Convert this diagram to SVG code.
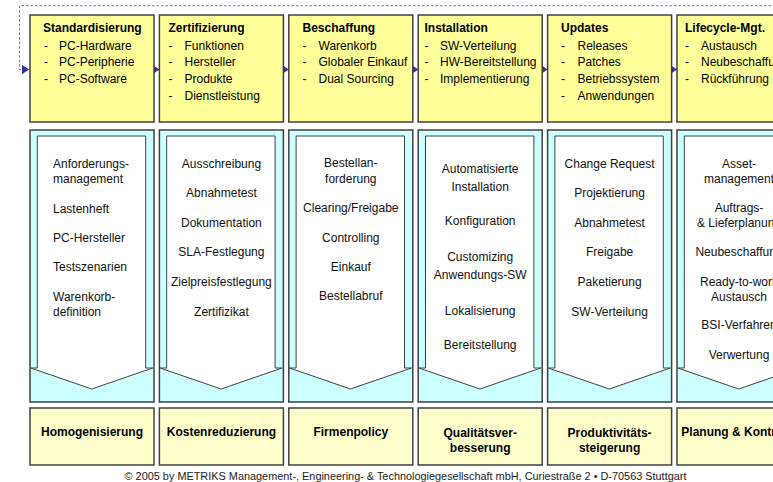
<svg xmlns="http://www.w3.org/2000/svg" width="773" height="482" viewBox="0 0 773 482">
<style>
text{font-family:"Liberation Sans",Arial,Helvetica,sans-serif;fill:#000}
.top{fill:#FFFF99;stroke:#404040;stroke-width:1.5}
.mid{fill:#CCFFFF;stroke:#404040;stroke-width:1.5}
.bot{fill:#FFFFCC;stroke:#404040;stroke-width:1.5}
.arr{fill:#FFFFFF;stroke:#404040;stroke-width:1}
.t{font-size:12px;font-weight:bold}
.i{font-size:12px}
.m{font-size:12px;text-anchor:middle;fill:#111}
.ml{font-size:12px;fill:#111}
.b{font-size:12px;font-weight:bold;text-anchor:middle}
.f{font-size:10.9px;text-anchor:middle;fill:#222}
.loop{fill:none;stroke:#6666CC;stroke-width:1;stroke-dasharray:2.5 2}
.step{fill:none;stroke:#333399;stroke-width:1}
</style>
<defs>
<marker id="ah" markerUnits="userSpaceOnUse" markerWidth="7" markerHeight="10" refX="7" refY="4.75" orient="auto">
<path d="M0,0 L7,4.75 L0,9.5 Z" fill="#333399"/>
</marker>
</defs>

<g id="connectors">
<path class="loop" d="M780,5.7 H19.5 V69.5 H29" marker-end="url(#ah)"/>
<path class="step" d="M154,69.5 H159.4" marker-end="url(#ah)"/>
<path class="step" d="M283.4,69.5 H288.8" marker-end="url(#ah)"/>
<path class="step" d="M412.8,69.5 H418.2" marker-end="url(#ah)"/>
<path class="step" d="M542.2,69.5 H547.6" marker-end="url(#ah)"/>
<path class="step" d="M671.6,69.5 H677" marker-end="url(#ah)"/>
</g>

<!-- Top row -->
<g id="top-standardisierung">
<rect class="top" x="30" y="15" width="124" height="107"/>
<text class="t" x="43" y="32">Standardisierung</text>
<text class="i"><tspan x="44" y="49.5">-</tspan><tspan x="59">PC-Hardware</tspan></text>
<text class="i"><tspan x="44" y="66.2">-</tspan><tspan x="59">PC-Peripherie</tspan></text>
<text class="i"><tspan x="44" y="83">-</tspan><tspan x="59">PC-Software</tspan></text>
</g>
<g id="top-zertifizierung">
<rect class="top" x="159.4" y="15" width="124" height="107"/>
<text class="t" x="168.5" y="32">Zertifizierung</text>
<text class="i"><tspan x="168.5" y="49.5">-</tspan><tspan x="184.5">Funktionen</tspan></text>
<text class="i"><tspan x="168.5" y="66.2">-</tspan><tspan x="184.5">Hersteller</tspan></text>
<text class="i"><tspan x="168.5" y="83">-</tspan><tspan x="184.5">Produkte</tspan></text>
<text class="i"><tspan x="168.5" y="99.7">-</tspan><tspan x="184.5">Dienstleistung</tspan></text>
</g>
<g id="top-beschaffung">
<rect class="top" x="288.8" y="15" width="124" height="107"/>
<text class="t" x="302.5" y="32">Beschaffung</text>
<text class="i"><tspan x="302.5" y="49.5">-</tspan><tspan x="318.5">Warenkorb</tspan></text>
<text class="i"><tspan x="302.5" y="66.2">-</tspan><tspan x="318.5">Globaler Einkauf</tspan></text>
<text class="i"><tspan x="302.5" y="83">-</tspan><tspan x="318.5">Dual Sourcing</tspan></text>
</g>
<g id="top-installation">
<rect class="top" x="418.2" y="15" width="124" height="107"/>
<text class="t" x="424.5" y="32">Installation</text>
<text class="i"><tspan x="424.5" y="49.5">-</tspan><tspan x="440">SW-Verteilung</tspan></text>
<text class="i"><tspan x="424.5" y="66.2">-</tspan><tspan x="440">HW-Bereitstellung</tspan></text>
<text class="i"><tspan x="424.5" y="83">-</tspan><tspan x="440">Implementierung</tspan></text>
</g>
<g id="top-updates">
<rect class="top" x="547.6" y="15" width="124" height="107"/>
<text class="t" x="561" y="32">Updates</text>
<text class="i"><tspan x="561" y="49.5">-</tspan><tspan x="577.5">Releases</tspan></text>
<text class="i"><tspan x="561" y="66.2">-</tspan><tspan x="577.5">Patches</tspan></text>
<text class="i"><tspan x="561" y="83">-</tspan><tspan x="577.5">Betriebssystem</tspan></text>
<text class="i"><tspan x="561" y="99.7">-</tspan><tspan x="577.5">Anwendungen</tspan></text>
</g>
<g id="top-lifecycle">
<rect class="top" x="677" y="15" width="124" height="107"/>
<text class="t" x="685" y="32">Lifecycle-Mgt.</text>
<text class="i"><tspan x="685" y="49.5">-</tspan><tspan x="701">Austausch</tspan></text>
<text class="i"><tspan x="685" y="66.2">-</tspan><tspan x="701">Neubeschaffung</tspan></text>
<text class="i"><tspan x="685" y="83">-</tspan><tspan x="701">Rückführung</tspan></text>
</g>

<!-- Middle row -->
<g id="mid-standardisierung">
<rect class="mid" x="30" y="130" width="124" height="272"/>
<path class="arr" d="M37.3,136 H145.7 V368 H152.7 L91.7,389 L30.7,368 H37.3 Z"/>
<text class="ml" x="53" y="168">Anforderungs-</text>
<text class="ml" x="53" y="183">management</text>
<text class="ml" x="53" y="212.5">Lastenheft</text>
<text class="ml" x="53" y="241.5">PC-Hersteller</text>
<text class="ml" x="53" y="270.5">Testszenarien</text>
<text class="ml" x="53" y="300.5">Warenkorb-</text>
<text class="ml" x="53" y="315.5">definition</text>
</g>
<g id="mid-zertifizierung">
<rect class="mid" x="159.4" y="130" width="124" height="272"/>
<path class="arr" d="M166.7,136 H275.1 V368 H282.1 L221.1,389 L160.1,368 H166.7 Z"/>
<text class="m" x="221.4" y="167.7">Ausschreibung</text>
<text class="m" x="221.4" y="197.3">Abnahmetest</text>
<text class="m" x="221.4" y="226.7">Dokumentation</text>
<text class="m" x="221.4" y="256">SLA-Festlegung</text>
<text class="m" x="221.4" y="285.7">Zielpreisfestlegung</text>
<text class="m" x="221.4" y="315.7">Zertifizikat</text>
</g>
<g id="mid-beschaffung">
<rect class="mid" x="288.8" y="130" width="124" height="272"/>
<path class="arr" d="M296.1,136 H404.5 V368 H411.5 L350.5,389 L289.5,368 H296.1 Z"/>
<text class="m" x="350.8" y="167.3">Bestellan-</text>
<text class="m" x="350.8" y="183">forderung</text>
<text class="m" x="350.8" y="212.3">Clearing/Freigabe</text>
<text class="m" x="350.8" y="241.7">Controlling</text>
<text class="m" x="350.8" y="271">Einkauf</text>
<text class="m" x="350.8" y="300.3">Bestellabruf</text>
</g>
<g id="mid-installation">
<rect class="mid" x="418.2" y="130" width="124" height="272"/>
<path class="arr" d="M425.5,136 H533.9 V368 H540.9 L479.9,389 L418.9,368 H425.5 Z"/>
<text class="m" x="480.2" y="172.7">Automatisierte</text>
<text class="m" x="480.2" y="190.7">Installation</text>
<text class="m" x="480.2" y="225.3">Konfiguration</text>
<text class="m" x="480.2" y="261.3">Customizing</text>
<text class="m" x="480.2" y="279.3">Anwendungs-SW</text>
<text class="m" x="480.2" y="315">Lokalisierung</text>
<text class="m" x="480.2" y="349.3">Bereitstellung</text>
</g>
<g id="mid-updates">
<rect class="mid" x="547.6" y="130" width="124" height="272"/>
<path class="arr" d="M554.9,136 H663.3 V368 H670.3 L609.3,389 L548.3,368 H554.9 Z"/>
<text class="m" x="609.6" y="167.7">Change Request</text>
<text class="m" x="609.6" y="197.3">Projektierung</text>
<text class="m" x="609.6" y="226.7">Abnahmetest</text>
<text class="m" x="609.6" y="256">Freigabe</text>
<text class="m" x="609.6" y="285.7">Paketierung</text>
<text class="m" x="609.6" y="315.7">SW-Verteilung</text>
</g>
<g id="mid-lifecycle">
<rect class="mid" x="677" y="130" width="124" height="272"/>
<path class="arr" d="M684.3,136 H792.7 V368 H799.7 L738.7,389 L677.7,368 H684.3 Z"/>
<text class="m" x="739" y="167.7">Asset-</text>
<text class="m" x="739" y="182.7">management</text>
<text class="m" x="739" y="212.3">Auftrags-</text>
<text class="m" x="739" y="227.3">&amp; Lieferplanung</text>
<text class="m" x="739" y="256">Neubeschaffung</text>
<text class="m" x="739" y="285.7">Ready-to-work</text>
<text class="m" x="739" y="300.7">Austausch</text>
<text class="m" x="739" y="329.3">BSI-Verfahren</text>
<text class="m" x="739" y="359">Verwertung</text>
</g>

<!-- Bottom row -->
<g id="bot-homogenisierung">
<rect class="bot" x="30" y="408" width="124" height="57"/>
<text class="b" x="92" y="436">Homogenisierung</text>
</g>
<g id="bot-kostenreduzierung">
<rect class="bot" x="159.4" y="408" width="124" height="57"/>
<text class="b" x="221.4" y="436">Kostenreduzierung</text>
</g>
<g id="bot-firmenpolicy">
<rect class="bot" x="288.8" y="408" width="124" height="57"/>
<text class="b" x="350.8" y="436">Firmenpolicy</text>
</g>
<g id="bot-qualitaet">
<rect class="bot" x="418.2" y="408" width="124" height="57"/>
<text class="b" x="480.2" y="437">Qualitätsver-</text>
<text class="b" x="480.2" y="452">besserung</text>
</g>
<g id="bot-produktivitaet">
<rect class="bot" x="547.6" y="408" width="124" height="57"/>
<text class="b" x="609.6" y="437">Produktivitäts-</text>
<text class="b" x="609.6" y="452">steigerung</text>
</g>
<g id="bot-planung">
<rect class="bot" x="677" y="408" width="124" height="57"/>
<text class="b" x="739" y="436">Planung &amp; Kontrolle</text>
</g>

<text class="f" x="405.5" y="480">© 2005 by METRIKS Management-, Engineering- &amp; Technologiegesellschaft mbH, Curiestraße 2 • D-70563 Stuttgart</text>
</svg>
